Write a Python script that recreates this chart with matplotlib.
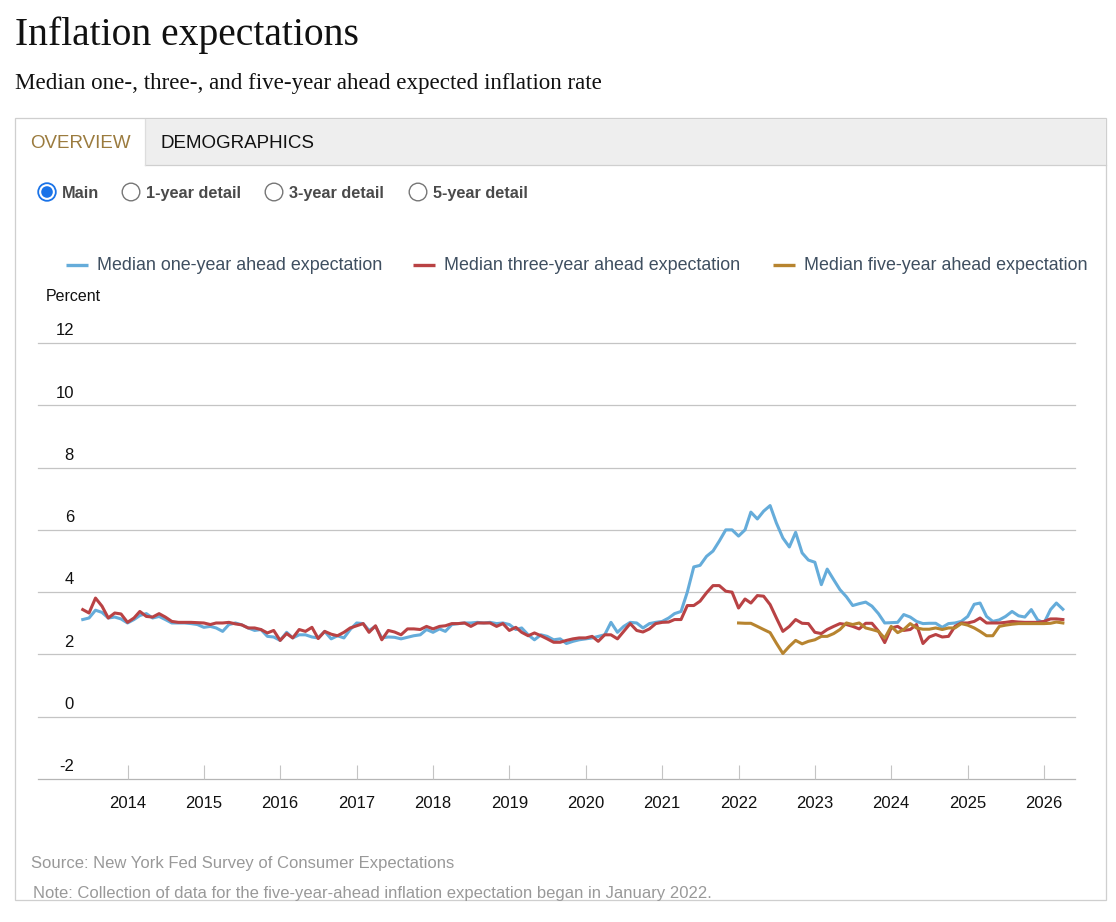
import numpy as np
import pandas as pd
import matplotlib
matplotlib.use('Agg')
import matplotlib.pyplot as plt
import matplotlib.dates as mdates
from matplotlib.lines import Line2D
from matplotlib.patches import Rectangle, Circle

# monthly medians, June 2013 - April 2026 (percent)
one_year = [
    3.12, 3.17, 3.42, 3.35, 3.17, 3.20, 3.14,                                      # 2013
    3.01, 3.12, 3.25, 3.31, 3.17, 3.22, 3.12, 3.01, 3.01, 3.01, 2.99, 2.96,        # 2014
    2.87, 2.90, 2.85, 2.74, 2.96, 3.01, 2.95, 2.85, 2.77, 2.80, 2.58, 2.56,        # 2015
    2.45, 2.71, 2.53, 2.63, 2.63, 2.56, 2.53, 2.74, 2.50, 2.60, 2.53, 2.80,        # 2016
    3.01, 2.99, 2.77, 2.90, 2.53, 2.56, 2.55, 2.50, 2.55, 2.60, 2.63, 2.80,        # 2017
    2.71, 2.82, 2.74, 2.96, 2.99, 3.01, 3.01, 3.03, 3.01, 3.03, 2.99, 3.01,        # 2018
    2.96, 2.80, 2.85, 2.63, 2.47, 2.63, 2.58, 2.47, 2.50, 2.35, 2.42, 2.47,        # 2019
    2.50, 2.53, 2.58, 2.63, 3.03, 2.71, 2.90, 3.03, 3.01, 2.85, 2.99, 3.03,        # 2020
    3.06, 3.17, 3.31, 3.38, 4.00, 4.81, 4.86, 5.15, 5.32, 5.64, 6.00, 6.00,        # 2021
    5.80, 6.00, 6.57, 6.35, 6.60, 6.78, 6.22, 5.74, 5.45, 5.92, 5.26, 5.03,        # 2022
    4.96, 4.24, 4.74, 4.40, 4.08, 3.85, 3.57, 3.63, 3.68, 3.55, 3.31, 3.01,        # 2023
    3.02, 3.03, 3.28, 3.20, 3.06, 2.99, 3.00, 3.00, 2.87, 2.99, 3.01, 3.06,        # 2024
    3.22, 3.61, 3.65, 3.22, 3.06, 3.11, 3.22, 3.38, 3.24, 3.20, 3.44, 3.11,        # 2025
    3.01, 3.44, 3.65, 3.45,                                                        # 2026
]
three_year = [
    3.44, 3.33, 3.81, 3.55, 3.17, 3.33, 3.30,
    3.03, 3.17, 3.38, 3.22, 3.20, 3.31, 3.20, 3.06, 3.03, 3.03, 3.03, 3.02,
    3.01, 2.96, 3.01, 3.01, 3.03, 2.98, 2.95, 2.85, 2.85, 2.80, 2.69, 2.77,
    2.45, 2.67, 2.53, 2.80, 2.74, 2.87, 2.51, 2.74, 2.65, 2.60, 2.71, 2.85,
    2.92, 2.99, 2.71, 2.92, 2.47, 2.77, 2.72, 2.63, 2.82, 2.82, 2.80, 2.90,
    2.82, 2.90, 2.92, 2.99, 2.99, 3.01, 2.90, 3.01, 3.01, 3.01, 2.90, 2.99,
    2.77, 2.87, 2.71, 2.60, 2.69, 2.60, 2.50, 2.39, 2.39, 2.45, 2.50, 2.53,
    2.53, 2.58, 2.42, 2.63, 2.63, 2.50, 2.74, 2.99, 2.77, 2.72, 2.82, 2.99,
    3.03, 3.04, 3.12, 3.12, 3.57, 3.57, 3.71, 3.98, 4.21, 4.21, 4.03, 4.00,
    3.49, 3.78, 3.65, 3.89, 3.87, 3.60, 3.17, 2.74, 2.90, 3.12, 3.00, 2.99,
    2.71, 2.67, 2.80, 2.90, 2.99, 2.96, 2.90, 2.82, 3.00, 3.00, 2.75, 2.38,
    2.85, 2.90, 2.77, 2.80, 2.96, 2.35, 2.56, 2.64, 2.56, 2.58, 2.90, 3.01,
    3.01, 3.06, 3.17, 3.01, 3.01, 3.01, 3.03, 3.06, 3.04, 3.03, 3.03, 3.03,
    3.06, 3.14, 3.14, 3.12,
]
# five-year series starts January 2022
five_year = [
    3.01, 3.00, 3.00, 2.90, 2.80, 2.70, 2.36, 2.03, 2.26, 2.45, 2.34, 2.42,        # 2022
    2.47, 2.58, 2.58, 2.67, 2.80, 3.01, 2.96, 3.01, 2.85, 2.80, 2.74, 2.52,        # 2023
    2.90, 2.70, 2.80, 2.99, 2.85, 2.81, 2.81, 2.85, 2.80, 2.85, 2.85, 2.99,        # 2024
    2.94, 2.85, 2.74, 2.60, 2.60, 2.90, 2.94, 2.97, 2.99, 2.99, 2.99, 2.99,        # 2025
    2.99, 3.00, 3.04, 3.01,                                                        # 2026
]
y_ticks = [-2, 0, 2, 4, 6, 8, 10, 12]
year_ticks = list(range(2014, 2027))
legend_labels = ["Median one-year ahead expectation",
                 "Median three-year ahead expectation",
                 "Median five-year ahead expectation"]
radio_labels = ["Main", "1-year detail", "3-year detail", "5-year detail"]

months = pd.date_range("2013-06-01", periods=len(one_year), freq="MS")
months5 = pd.date_range("2022-01-01", periods=len(five_year), freq="MS")

BLUE = "#65acda"
RED = "#b94244"
GOLD = "#b7842f"
W, H = 1116, 922
SANS = "Liberation Sans"

fig = plt.figure(figsize=(W / 100, H / 100), dpi=100)

def fx(x):
    return x / W

def fy(y):
    return 1 - y / H

# page header
fig.text(fx(15), fy(45), "Inflation expectations", family="Liberation Serif",
         fontsize=28.5, va="baseline", color="#111111")
fig.text(fx(15), fy(89), "Median one-, three-, and five-year ahead expected inflation rate",
         family="Liberation Serif", fontsize=16.6, va="baseline", color="#111111")

# panel and tabs
fig.add_artist(Rectangle((fx(15), fy(900)), fx(1106) - fx(15), fy(118) - fy(900),
                         transform=fig.transFigure, fill=False, ec="#cfcfcf", lw=0.9))
fig.add_artist(Rectangle((fx(145), fy(165)), fx(1106) - fx(145), fy(119) - fy(165),
                         transform=fig.transFigure, fc="#eeeeee", ec="none"))
fig.add_artist(Line2D([fx(145), fx(1106)], [fy(165), fy(165)], transform=fig.transFigure,
                      color="#cfcfcf", lw=0.9))
fig.add_artist(Line2D([fx(145), fx(145)], [fy(119), fy(165)], transform=fig.transFigure,
                      color="#dddddd", lw=0.9))
fig.text(fx(30), fy(148), "OVERVIEW", family=SANS, fontsize=13.5, color="#9b7b3e", va="baseline")
fig.text(fx(160), fy(148), "DEMOGRAPHICS", family=SANS, fontsize=13.5, color="#111111", va="baseline")

# radio buttons
radio_x = [47, 131, 274, 418]
for i, (rx, lab) in enumerate(zip(radio_x, radio_labels)):
    c = (rx / 100, (H - 192) / 100)
    if i == 0:
        fig.add_artist(Circle(c, 0.088, transform=fig.dpi_scale_trans, fc="white", ec="#1a73e8", lw=1.3))
        fig.add_artist(Circle(c, 0.058, transform=fig.dpi_scale_trans, fc="#1a73e8", ec="none"))
    else:
        fig.add_artist(Circle(c, 0.088, transform=fig.dpi_scale_trans, fc="white", ec="#767676", lw=1.0))
    fig.text(fx(rx + 15), fy(193), lab, family=SANS, fontsize=11.7, fontweight="bold",
             color="#4a4a4a", va="center")

# legend
leg_x = [66, 413, 773]
for lx, col, lab in zip(leg_x, [BLUE, RED, GOLD], legend_labels):
    fig.add_artist(Line2D([fx(lx), fx(lx + 22)], [fy(265), fy(265)], transform=fig.transFigure,
                          color=col, lw=2.4, solid_capstyle="butt"))
    fig.text(fx(lx + 31), fy(265), lab, family=SANS, fontsize=12.9, color="#3f4f60", va="center")

fig.text(fx(46), fy(296), "Percent", family=SANS, fontsize=11.5, color="#111111", va="center")

# chart
ax = fig.add_axes([fx(38), fy(779), fx(1075) - fx(38), fy(343) - fy(779)])
ax.set_ylim(-2, 12)
ax.set_xlim(pd.Timestamp("2012-10-30"), pd.Timestamp("2026-05-29"))
for s in ax.spines.values():
    s.set_visible(False)
for t in y_ticks:
    ax.axhline(t, color="#c4c4c4" if t != -2 else "#b5b5b5", lw=0.9, zorder=1, clip_on=False)
    ax.text(0.0347, t + 0.39, str(t), transform=ax.get_yaxis_transform(), ha="right",
            va="center", family=SANS, fontsize=12, color="#111111")
ax.set_yticks([])

ax.plot(months, one_year, color=BLUE, lw=2.2, zorder=3)
ax.plot(months, three_year, color=RED, lw=2.2, zorder=4)
ax.plot(months5, five_year, color=GOLD, lw=2.2, zorder=5)

ax.set_xticks([pd.Timestamp(f"{y}-01-01") for y in year_ticks])
ax.xaxis.set_major_formatter(mdates.DateFormatter("%Y"))
ax.tick_params(axis="x", direction="in", length=10, width=0.8, color="#c4c4c4", pad=12,
               labelsize=12, labelcolor="#111111")
for lab in ax.get_xticklabels():
    lab.set_family(SANS)

# footnotes
fig.text(fx(31), fy(863), "Source: New York Fed Survey of Consumer Expectations", family=SANS,
         fontsize=12, color="#999999", va="center")
fig.text(fx(33), fy(893), "Note: Collection of data for the five-year-ahead inflation expectation began in January 2022.",
         family=SANS, fontsize=12, color="#999999", va="center")

fig.savefig("out.png", dpi=100)
